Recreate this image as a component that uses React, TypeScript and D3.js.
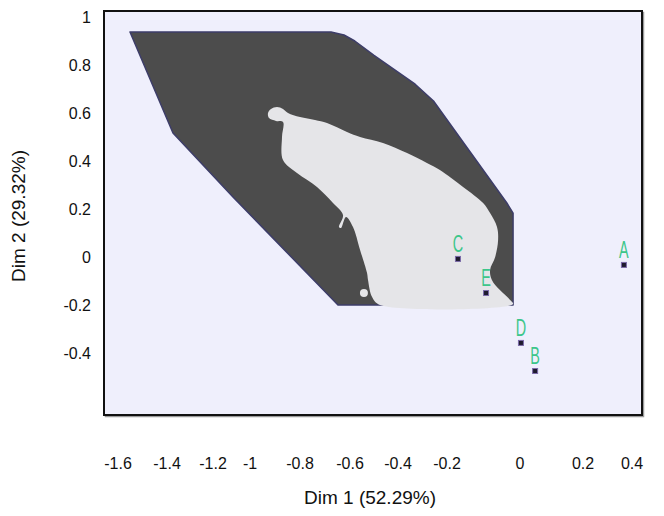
import * as d3 from 'd3';
import React, { useEffect, useRef } from 'react';

// axis ticks
const xTicks = [-1.6, -1.4, -1.2, -1, -0.8, -0.6, -0.4, -0.2, 0, 0.2, 0.4];
const yTicks = [1, 0.8, 0.6, 0.4, 0.2, 0, -0.2, -0.4];

// individuals
const pointNames = ['A', 'B', 'C', 'D', 'E'];
const pointX = [0.367, 0.048, -0.17, 0.003, -0.093];
const pointY = [-0.033, -0.475, -0.008, -0.358, -0.15];

// outer (dark) region
const hullX = [-1.551, -0.676, -0.624, -0.58, -0.5, -0.33, -0.255, -0.036, -0.019, -0.019, -0.648, -1.092, -1.374];
const hullY = [0.9375, 0.9375, 0.925, 0.9, 0.84, 0.72, 0.65, 0.225, 0.183, -0.2, -0.2, 0.25, 0.517];

// inner (light) region
const blobX = [
  -0.868, -0.896, -0.924, -0.928, -0.916, -0.892, -0.868, -0.848, -0.8, -0.74, -0.692, -0.612, -0.558,
  -0.4625, -0.363, -0.282, -0.229, -0.156, -0.101, -0.082, -0.063, -0.06, -0.068, -0.082, -0.077, -0.055,
  -0.027, -0.019, -0.475, -0.508, -0.525, -0.529, -0.558, -0.5875, -0.616, -0.636, -0.644, -0.628, -0.668,
  -0.732, -0.812, -0.868, -0.872
];
const blobY = [
  0.5625, 0.567, 0.579, 0.6, 0.617, 0.625, 0.617, 0.6, 0.583, 0.571, 0.558, 0.521, 0.5,
  0.475, 0.433, 0.392, 0.3625, 0.292, 0.225, 0.183, 0.125, 0.071, 0, -0.054, -0.096, -0.138,
  -0.179, -0.196, -0.2, -0.167, -0.096, -0.067, 0.029, 0.125, 0.167, 0.121, 0.125, 0.175, 0.225,
  0.292, 0.35, 0.404, 0.5
];
const holeX = [-0.542];
const holeY = [-0.15];

// layout (label positions of the x ticks are not evenly spaced in the original)
const xTickPx = [118, 167, 213, 250, 300, 350, 398, 447, 520, 583, 632];
const box = { x: 104, y: 11, w: 538, h: 404 };

export default function App() {
  const svgRef = useRef<SVGSVGElement | null>(null);

  useEffect(() => {
    const width = 664;
    const height = 516;
    d3.select(svgRef.current).selectAll('*').remove();

    const svg = d3
      .select(svgRef.current)
      .attr('width', width)
      .attr('height', height)
      .style('font-family', '"Liberation Sans", Arial, sans-serif');

    const xScale = d3.scaleLinear().domain(xTicks).range(xTickPx);
    const yScale = d3.scaleLinear().domain([-0.4, 1]).range([353, 17]);

    // plot frame
    svg
      .append('rect')
      .attr('x', box.x + 1.5)
      .attr('y', box.y + 1.5)
      .attr('width', box.w)
      .attr('height', box.h)
      .attr('fill', 'none')
      .attr('stroke', '#9a9a9a')
      .attr('stroke-width', 1.5);
    svg
      .append('rect')
      .attr('x', box.x)
      .attr('y', box.y)
      .attr('width', box.w)
      .attr('height', box.h)
      .attr('fill', '#efeffc')
      .attr('stroke', '#111')
      .attr('stroke-width', 2);

    const toPts = (xs: number[], ys: number[]) => xs.map((x, i) => [x, ys[i]] as [number, number]);

    const hullLine = d3
      .line<[number, number]>()
      .x((d) => xScale(d[0]))
      .y((d) => yScale(d[1]))
      .curve(d3.curveLinearClosed);

    svg
      .append('path')
      .attr('d', hullLine(toPts(hullX, hullY)))
      .attr('fill', '#4c4c4c')
      .attr('stroke', '#3d3d68')
      .attr('stroke-width', 1.5)
      .attr('stroke-linejoin', 'round');

    const blobLine = d3
      .line<[number, number]>()
      .x((d) => xScale(d[0]))
      .y((d) => yScale(d[1]))
      .curve(d3.curveCatmullRomClosed.alpha(0.5));

    svg
      .append('path')
      .attr('d', blobLine(toPts(blobX, blobY)))
      .attr('fill', '#e5e5e8');

    svg
      .selectAll('.hole')
      .data(toPts(holeX, holeY))
      .enter()
      .append('circle')
      .attr('class', 'hole')
      .attr('cx', (d) => xScale(d[0]))
      .attr('cy', (d) => yScale(d[1]))
      .attr('r', 4)
      .attr('fill', '#e5e5e8');

    // points
    const pts = pointNames.map((name, i) => ({ name, x: pointX[i], y: pointY[i] }));
    const g = svg.selectAll('.pt').data(pts).enter().append('g').attr('class', 'pt');
    g.append('rect')
      .attr('x', (d) => xScale(d.x) - 2.5)
      .attr('y', (d) => yScale(d.y) - 2.5)
      .attr('width', 5)
      .attr('height', 5)
      .attr('fill', '#1e1a2e')
      .attr('stroke', '#7a6aa8')
      .attr('stroke-width', 1);
    g.append('text')
      .attr('transform', (d) => `translate(${xScale(d.x)},${yScale(d.y) - 7}) scale(0.6,1)`)
      .attr('text-anchor', 'middle')
      .style('font-size', '24px')
      .attr('fill', '#3cc68a')
      .text((d) => d.name);

    // y tick labels
    svg
      .selectAll('.ytick')
      .data(yTicks)
      .enter()
      .append('text')
      .attr('class', 'ytick')
      .attr('x', 91)
      .attr('y', (d) => yScale(d))
      .attr('dy', '0.35em')
      .attr('text-anchor', 'end')
      .style('font-size', '16px')
      .attr('fill', '#111')
      .text((d) => String(d));

    // x tick labels
    svg
      .selectAll('.xtick')
      .data(xTicks)
      .enter()
      .append('text')
      .attr('class', 'xtick')
      .attr('x', (d) => xScale(d))
      .attr('y', 463)
      .attr('dy', '0.35em')
      .attr('text-anchor', 'middle')
      .style('font-size', '16px')
      .attr('fill', '#111')
      .text((d) => String(d));

    // axis titles
    svg
      .append('text')
      .attr('x', 370)
      .attr('y', 497)
      .attr('dy', '0.35em')
      .attr('text-anchor', 'middle')
      .style('font-size', '19px')
      .attr('fill', '#111')
      .text('Dim 1 (52.29%)');

    svg
      .append('text')
      .attr('transform', 'translate(18,216) rotate(-90)')
      .attr('dy', '0.35em')
      .attr('text-anchor', 'middle')
      .style('font-size', '19px')
      .attr('fill', '#111')
      .text('Dim 2 (29.32%)');
  }, []);

  return (
    <div>
      <style>{'body{margin:0}'}</style>
      <svg ref={svgRef} style={{ display: 'block' }} />
    </div>
  );
}
